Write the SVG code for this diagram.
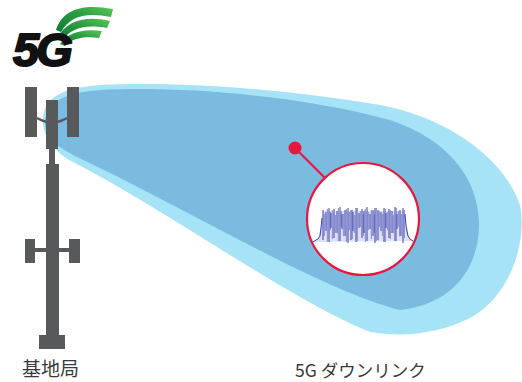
<svg xmlns="http://www.w3.org/2000/svg" width="522" height="382" viewBox="0 0 522 382">
  <defs>
    <linearGradient id="greenBand" x1="0" y1="1" x2="1" y2="0">
      <stop offset="0" stop-color="#0b7a33"/>
      <stop offset="0.6" stop-color="#2ea043"/>
      <stop offset="1" stop-color="#5cc65a"/>
    </linearGradient>
    <style>
      .steel { fill: #58595b; }
      .arm { fill: none; stroke: #58595b; stroke-width: 2.5; }
      .label { font-family: "Noto Sans CJK JP", "Noto Sans", sans-serif; fill: #3a3a3a; }
      .red { stroke: #e8173f; }
      .spec-dark { stroke: #3b43a8; stroke-width: 1; fill: none; }
      .spec-light { stroke: #9297d8; stroke-width: 1.2; fill: none; }
    </style>
  </defs>

  <rect width="522" height="382" fill="#ffffff"/>

  <!-- 5G logo: wordmark with three green signal bands -->
  <g id="logo">
    <path fill="url(#greenBand)" d="M56,30 C62,10 82,3 113,9 L111,17 C86,12 70,16 61,32 Z"/>
    <path fill="url(#greenBand)" d="M58,37 C66,22 84,15 110,21 L107,28 C86,24 72,28 63,39 Z"/>
    <path fill="url(#greenBand)" d="M60,44 C68,33 82,28 102,31 L99,38 C84,36 73,38 65,46 Z"/>
    <text x="13" y="66" font-family="Liberation Sans, Arial, sans-serif" font-weight="bold" font-style="italic" font-size="47" letter-spacing="-3" fill="#111111" stroke="#111111" stroke-width="2" stroke-linejoin="round">5G</text>
  </g>

  <!-- Downlink beam: outer coverage and inner core -->
  <g id="beam">
    <path fill="#a6e3f7" d="M43,118 C45,98 60,88 100,85 C170,81 280,88 380,105 C450,118 505,160 520,205 C528,250 505,300 470,318 C440,333 405,338 370,332 C290,300 170,212 73,162 C55,152 42,138 43,118 Z"/>
    <path fill="#7bbbe0" d="M45,125 C44,105 60,93 100,90 C180,86 300,95 390,120 C450,140 478,180 479,222 C480,270 450,305 400,310 C320,290 190,210 73,155 C55,145 46,138 45,125 Z"/>
  </g>

  <!-- Base station tower -->
  <g id="tower">
    <rect class="steel" x="25" y="87" width="12" height="50"/>
    <rect class="steel" x="67" y="87" width="12" height="50"/>
    <path class="arm" d="M37,118 Q42,121 47,122 M57,122 Q62,121 67,118"/>
    <rect class="steel" x="46" y="100" width="12" height="49"/>
    <rect class="steel" x="49" y="148" width="6" height="17"/>
    <rect class="steel" x="46" y="164" width="13" height="180"/>
    <rect class="steel" x="39" y="335" width="26" height="14"/>
    <rect class="steel" x="35" y="248" width="34" height="4"/>
    <rect class="steel" x="25" y="239" width="10" height="24"/>
    <rect class="steel" x="69" y="239" width="11" height="24"/>
  </g>

  <!-- Leader from the measurement point to the spectrum callout -->
  <g id="connectors">
    <line class="red" x1="295" y1="148" x2="325" y2="178" stroke-width="2.2"/>
  </g>

  <g id="probe-point">
    <circle cx="295" cy="148" r="6.5" fill="#e8173f"/>
  </g>

  <!-- Spectrum callout -->
  <g id="spectrum-callout">
    <circle class="red" cx="363" cy="219" r="56" fill="#ffffff" stroke-width="2.2"/>
    <path fill="#c9cbee" opacity="0.6" d="M313,242 L318,239 L321,226 L323,211 L405,211 L407,226 L409,238 L413,241 Z"/>
    <path class="spec-light" d="M324.4,214V236 M327.4,209V242 M330.4,212V230 M332.4,210V239 M335.4,215V233 M338.4,208V241 M341.4,211V227 M343.4,214V236 M346.4,209V242 M349.4,212V230 M352.4,210V239 M354.4,215V233 M357.4,208V241 M360.4,211V227 M363.4,214V236 M365.4,209V242 M368.4,212V230 M371.4,210V239 M374.4,215V233 M376.4,208V241 M379.4,211V227 M382.4,214V236 M385.4,209V242 M387.4,212V230 M390.4,210V239 M393.4,215V233 M396.4,208V241 M398.4,211V227 M401.4,214V236 M404.4,210V238"/>
    <path class="spec-dark" d="M323,210V240 M326,212V231 M329,208V242 M331,213V228 M334,209V238 M337,211V233 M340,207V241 M342,214V229 M345,210V236 M348,208V243 M351,210V240 M353,212V231 M356,208V242 M359,213V228 M362,209V238 M364,211V233 M367,207V241 M370,214V229 M373,210V236 M375,208V243 M378,210V240 M381,212V231 M384,208V242 M386,213V228 M389,209V238 M392,211V233 M395,207V241 M397,214V229 M400,210V236 M403,208V243"/>
    <path class="spec-dark" stroke-width="0.8" d="M313,242 L316,240 L318,239 L320,236 L321,228 L322,218 M405,214 L406,226 L408,236 L410,239 L413,241"/>
  </g>

  <!-- Captions -->
  <g id="labels">
    <text class="label" x="22" y="376" font-size="19">基地局</text>
    <text class="label" x="295" y="377" font-size="17.5">5G ダウンリンク</text>
  </g>
</svg>
